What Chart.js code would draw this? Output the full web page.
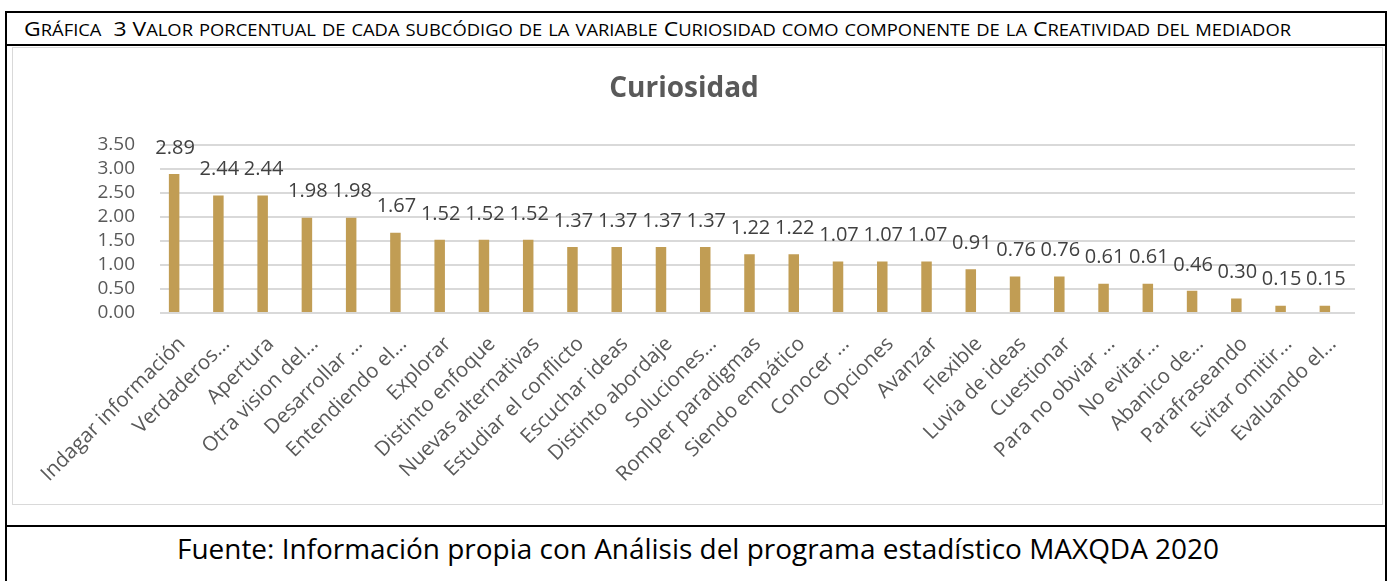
<!DOCTYPE html>
<html>
<head>
    <title>Curiosidad</title>
    <style>
        body {margin: 0; background: #fff; font-family: 'Open Sans', sans-serif;}
        #marco {position: absolute; left: 5px; top: 11px; width: 1378px; height: 600px; border: 2px solid #000;}
        #cabecera {position: absolute; left: 24px; top: 15px; font-size: 20px; white-space: pre; transform-origin: 0 0; color: #000; line-height: 28px;}
        #cabecera .pc {font-size: 16px;}
        #lineaSup {position: absolute; left: 5px; top: 44px; width: 1382px; height: 2px; background: #000;}
        #caja {position: absolute; left: 12px; top: 47px; width: 1369px; height: 456px; border: 1px solid #d9d9d9;}
        #lineaInf {position: absolute; left: 5px; top: 525px; width: 1382px; height: 2px; background: #000;}
        #fuente {position: absolute; left: 177px; top: 531px; font-size: 28px; white-space: nowrap; transform-origin: 0 0; color: #000; line-height: 34px;}
    </style>
    <script src="https://cdn.jsdelivr.net/npm/chart.js"></script>
</head>
<body>
    <div id="marco"></div>
    <div id="cabecera"></div>
    <div id="lineaSup"></div>
    <div id="caja"><canvas id="chart"></canvas></div>
    <div id="lineaInf"></div>
    <div id="fuente">Fuente: Información propia con Análisis del programa estadístico MAXQDA 2020</div>

<script>
    var cabecera = 'Gráfica  3 Valor porcentual de cada subcódigo de la variable Curiosidad como componente de la Creatividad del mediador';
    var subcodigos = ['Indagar información', 'Verdaderos...', 'Apertura', 'Otra vision del...', 'Desarrollar ...',
        'Entendiendo el...', 'Explorar', 'Distinto enfoque', 'Nuevas alternativas', 'Estudiar el conflicto',
        'Escuchar ideas', 'Distinto abordaje', 'Soluciones...', 'Romper paradigmas', 'Siendo empático',
        'Conocer ...', 'Opciones', 'Avanzar', 'Flexible', 'Luvia de ideas', 'Cuestionar', 'Para no obviar ...',
        'No evitar...', 'Abanico de...', 'Parafraseando', 'Evitar omitir...', 'Evaluando el...'];
    var porcentajes = [2.89, 2.44, 2.44, 1.98, 1.98, 1.67, 1.52, 1.52, 1.52, 1.37, 1.37, 1.37, 1.37,
        1.22, 1.22, 1.07, 1.07, 1.07, 0.91, 0.76, 0.76, 0.61, 0.61, 0.46, 0.30, 0.15, 0.15];
    var ticksY = [0, 0.5, 1, 1.5, 2, 2.5, 3, 3.5];

    // small caps like the Word caption: lowercase runs drawn as smaller capitals
    var cab = document.getElementById('cabecera');
    cabecera.match(/[a-záéíóúñ]+|[^a-záéíóúñ]+/g).forEach(function(trozo) {
        var s = document.createElement('span');
        if (/[a-záéíóúñ]/.test(trozo)) s.className = 'pc';
        s.textContent = trozo.toUpperCase();
        cab.appendChild(s);
    });

    // stretch header and footer to the widths in the original
    function ajustar(id, ancho) {
        var el = document.getElementById(id);
        el.style.transform = 'scaleX(' + (ancho / el.getBoundingClientRect().width) + ')';
    }
    ajustar('cabecera', 1267);
    ajustar('fuente', 1042);

    // value labels above each bar
    var etiquetas = {
        id: 'etiquetas',
        afterDatasetsDraw: function(chart) {
            var ctx = chart.ctx;
            var meta = chart.getDatasetMeta(0);
            ctx.save();
            ctx.font = '20px "Open Sans"';
            ctx.fillStyle = '#404040';
            ctx.textAlign = 'center';
            ctx.textBaseline = 'middle';
            meta.data.forEach(function(bar, i) {
                ctx.fillText(porcentajes[i].toFixed(2), bar.x + 1, bar.y - 26);
            });
            ctx.restore();
        }
    };

    var ctx = document.getElementById('chart').getContext('2d');
    var chart = new Chart(ctx, {
        type: 'bar',
        data: {
            labels: subcodigos,
            datasets: [{
                label: 'Curiosidad',
                data: porcentajes,
                backgroundColor: '#c19d54',
                categoryPercentage: 0.7236,
                barPercentage: 0.656
            }, {
                label: '',
                data: [],
                backgroundColor: '#7f7f7f',
                categoryPercentage: 0.7236,
                barPercentage: 0.656
            }]
        },
        options: {
            responsive: true,
            maintainAspectRatio: false,
            animation: false,
            layout: {padding: {top: 0, right: 27, bottom: 0, left: 0}},
            plugins: {
                legend: {display: false},
                tooltip: {enabled: false},
                title: {
                    display: true,
                    text: 'Curiosidad',
                    color: '#595959',
                    font: {family: 'Open Sans', size: 28, weight: 'bold'},
                    padding: {top: 24, bottom: 39}
                }
            },
            scales: {
                x: {
                    grid: {display: false},
                    border: {display: false},
                    afterFit: function(s) { s.height = 191; },
                    ticks: {
                        autoSkip: false,
                        maxRotation: 45,
                        minRotation: 45,
                        padding: 11,
                        color: '#595959',
                        font: {family: 'Open Sans', size: 20.5}
                    }
                },
                y: {
                    min: 0,
                    max: 3.5,
                    afterFit: function(s) { s.width = 147; },
                    afterBuildTicks: function(s) { s.ticks = ticksY.map(function(v) { return {value: v}; }); },
                    grid: {color: '#d9d9d9', lineWidth: 2, drawTicks: false},
                    border: {display: false},
                    ticks: {
                        autoSkip: false,
                        padding: 25,
                        color: '#595959',
                        font: {family: 'Open Sans', size: 19},
                        callback: function(v) { return v.toFixed(2); }
                    }
                }
            }
        },
        plugins: [etiquetas]
    });
</script>
</body>
</html>
